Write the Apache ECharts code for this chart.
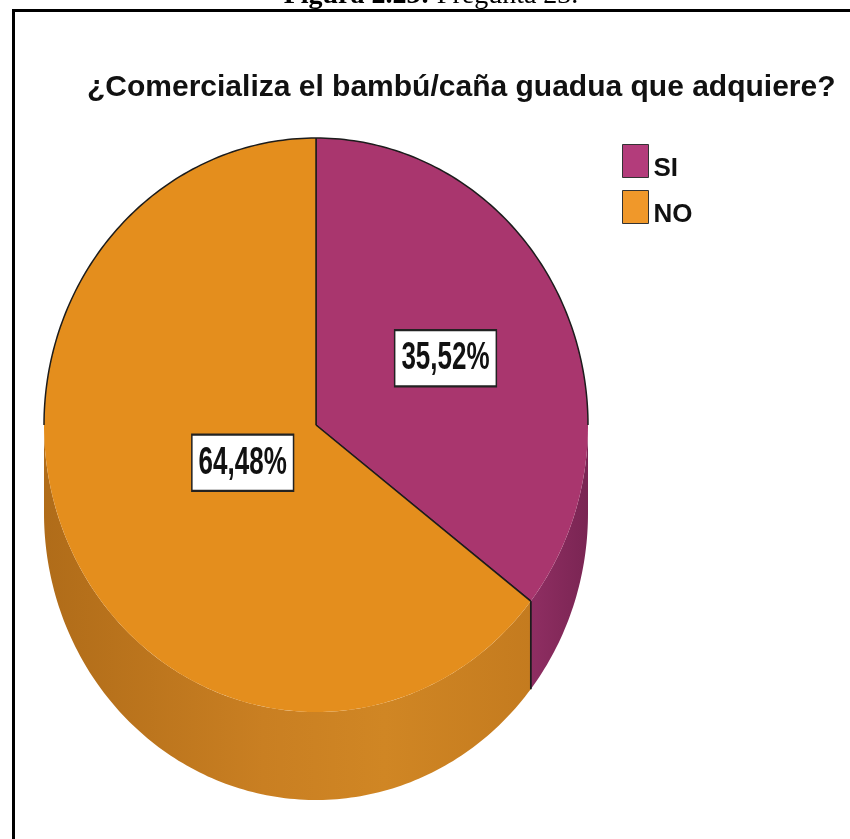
<!DOCTYPE html>
<html>
<head>
<meta charset="utf-8">
<script src="https://cdn.jsdelivr.net/npm/echarts@6/dist/echarts.min.js"></script>
<style>
  html, body { margin: 0; padding: 0; background: #fff; }
  #chart { width: 850px; height: 839px; }
</style>
</head>
<body>
<div id="chart"></div>
<script>
// Answers and their shares (percent)
const categories = ['SI', 'NO'];
const values = [35.52, 64.48];
const valueLabels = ['35,52%', '64,48%'];
const titleText = '¿Comercializa el bambú/caña guadua que adquiere?';

// Look of the slices
const topColors = ['#A9366E', '#E48E1D'];
const legendColors = ['#B33C7B', '#F0982A'];
const wallStops = [
  [[0, '#8F2E62'], [1, '#7A2553']],
  [[0, '#B06C19'], [0.45, '#C97F22'], [0.7, '#D08624'], [1, '#C47B1F']]
];
const labelRadius = [0.53, 0.30];
const EDGE = '#1c1c1c';
const SANS = 'Liberation Sans, Arial, sans-serif';

// Tilted pie geometry (ellipse of the top face and the thickness of the rim)
const PIE = { cx: 316, cy: 425, rx: 272, ry: 287, depth: 88 };

const total = values.reduce((s, v) => s + v, 0);
const starts = [];
let acc = 0;
values.forEach(v => { starts.push(acc); acc += v; });

function pt(deg, dy) {
  const r = deg * Math.PI / 180;
  return [PIE.cx + PIE.rx * Math.sin(r), PIE.cy - PIE.ry * Math.cos(r) + (dy || 0)];
}
function arc(a0, a1, dy) {
  const n = Math.max(2, Math.ceil(Math.abs(a1 - a0)));
  const out = [];
  for (let i = 0; i <= n; i++) out.push(pt(a0 + (a1 - a0) * i / n, dy));
  return out;
}

function renderSlice(idx) {
  return function (params, api) {
    const a0 = api.value(0) / total * 360;
    const a1 = a0 + api.value(1) / total * 360;
    const children = [];

    // visible outer rim (front half, 90°..270°)
    const w0 = Math.max(a0, 90), w1 = Math.min(a1, 270);
    if (w1 > w0) {
      const pts = arc(w0, w1, 0).concat(arc(w1, w0, PIE.depth));
      const xs = pts.map(p => p[0]);
      const xmin = Math.min.apply(null, xs), xmax = Math.max.apply(null, xs);
      children.push({
        type: 'polygon', z2: 0,
        shape: { points: pts },
        style: {
          fill: new echarts.graphic.LinearGradient(xmin, 0, xmax, 0,
            wallStops[idx].map(s => ({ offset: s[0], color: s[1] })), true),
          stroke: null
        }
      });
      [a0, a1].forEach(a => {
        if (a > 90 && a < 270) {
          children.push({
            type: 'line', z2: 3,
            shape: { x1: pt(a)[0], y1: pt(a)[1], x2: pt(a, PIE.depth)[0], y2: pt(a, PIE.depth)[1] },
            style: { stroke: EDGE, lineWidth: 1.5 }
          });
        }
      });
    }

    // top face
    children.push({
      type: 'polygon', z2: 1,
      shape: { points: [[PIE.cx, PIE.cy]].concat(arc(a0, a1, 0)) },
      style: { fill: topColors[idx], stroke: null }
    });

    // outlines: radial edges and the back part of the rim
    [a0, a1].forEach(a => {
      children.push({
        type: 'line', z2: 3,
        shape: { x1: PIE.cx, y1: PIE.cy, x2: pt(a)[0], y2: pt(a)[1] },
        style: { stroke: EDGE, lineWidth: 1.5 }
      });
    });
    [[0, 90], [270, 360]].forEach(r => {
      const b0 = Math.max(a0, r[0]), b1 = Math.min(a1, r[1]);
      if (b1 > b0) {
        children.push({
          type: 'polyline', z2: 3,
          shape: { points: arc(b0, b1, 0) },
          style: { stroke: EDGE, lineWidth: 1.5, fill: null }
        });
      }
    });

    // percentage label
    const mid = (a0 + a1) / 2 * Math.PI / 180;
    const lr = labelRadius[idx];
    children.push({
      type: 'text', z2: 5,
      x: PIE.cx + PIE.rx * lr * Math.sin(mid),
      y: PIE.cy - PIE.ry * lr * Math.cos(mid),
      scaleY: 1.5,
      style: {
        text: valueLabels[idx],
        x: 0, y: 0,
        align: 'center', verticalAlign: 'middle',
        fontSize: 26, fontWeight: 'bold', fontFamily: SANS,
        lineHeight: 26,
        fill: '#111',
        backgroundColor: '#fff',
        borderColor: '#222', borderWidth: 1.5,
        padding: [5, 6, 5, 6]
      }
    });

    return { type: 'group', children: children };
  };
}

const chart = echarts.init(document.getElementById('chart'), null, { renderer: 'canvas' });
chart.setOption({
  backgroundColor: '#fff',
  animation: false,
  title: {
    text: titleText,
    left: 87, top: 73, padding: 0,
    textStyle: { fontSize: 30, fontWeight: 'bold', color: '#111', fontFamily: SANS }
  },
  legend: {
    orient: 'vertical', left: 622, top: 144, padding: 0,
    itemWidth: 26, itemHeight: 33, itemGap: 8, icon: 'rect',
    selectedMode: false,
    data: categories.map((n, i) => ({
      name: n,
      itemStyle: { color: legendColors[i], borderColor: '#333', borderWidth: 1 }
    })),
    formatter: name => '{t|' + name + '}',
    textStyle: {
      color: '#111',
      rich: { t: { fontSize: 26, fontWeight: 'bold', color: '#111', fontFamily: SANS, padding: [16, 0, 0, 0] } }
    }
  },
  graphic: [
    {
      type: 'polyline', z: 10,
      shape: { points: [[13.5, 839], [13.5, 10.5], [850, 10.5]] },
      style: { stroke: '#000', lineWidth: 3, fill: null }
    },
    {
      type: 'text', z: 10, x: 431, y: -4,
      style: {
        text: '{b|Figura 2.23:} Pregunta 23.',
        rich: { b: { fontWeight: 'bold', fontSize: 28, fontFamily: 'Liberation Serif, Times New Roman, serif' } },
        fontSize: 28, fontFamily: 'Liberation Serif, Times New Roman, serif',
        fill: '#000', align: 'center', verticalAlign: 'middle'
      }
    }
  ],
  series: categories.map((name, i) => ({
    type: 'custom',
    name: name,
    coordinateSystem: 'none',
    silent: true,
    z: 2 + i,
    itemStyle: { color: topColors[i] },
    renderItem: renderSlice(i),
    data: [[starts[i], values[i]]]
  }))
});
</script>
</body>
</html>
